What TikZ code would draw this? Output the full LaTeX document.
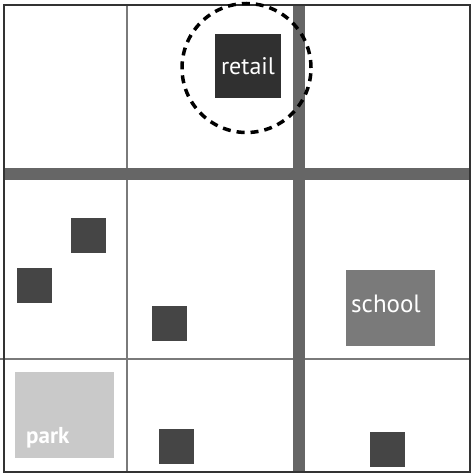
\documentclass[tikz,border=0pt]{standalone}
\usepackage{fontspec}
\setmainfont{PT Sans}
\definecolor{roadc}{HTML}{666666}
\definecolor{bldc}{HTML}{454545}
\definecolor{retailc}{HTML}{303030}
\definecolor{schoolc}{HTML}{7A7A7A}
\definecolor{parkc}{HTML}{C9C9C9}
\definecolor{linec}{HTML}{7A7A7A}
\tikzset{
  blk/.style={fill=bldc, draw=none, inner sep=0pt, minimum width=35pt, minimum height=35pt},
  road/.style={roadc, line width=12.5pt},
  thin/.style={linec, line width=1.3pt},
}
\begin{document}
\begin{tikzpicture}[x=1pt,y=-1pt]
\useasboundingbox (0,0) rectangle (471,473);
\fill[white] (0,0) rectangle (471,473);
% thin grid lines
\draw[thin] (127,5) -- (127,472);
\draw[thin] (0,359) -- (470,359);
% roads
\draw[road] (5,174) -- (470,174);
\draw[road] (299,5) -- (299,472);
% outer border
\draw[black!80, line width=2pt] (4,5) rectangle (470,472);
% buildings
\node[blk] (b1) at (88.5,235) {};
\node[blk] (b2) at (34,285.5) {};
\node[blk] (b3) at (169.5,323.5) {};
\node[blk] (b4) at (176.5,446.5) {};
\node[blk] (b5) at (387.5,449.5) {};
\node[fill=schoolc, inner sep=0pt, minimum width=89pt, minimum height=76pt] (school) at (390.5,308) {};
\node[text=white, font=\fontsize{25}{25}\selectfont, anchor=base, inner sep=0pt] (schoollbl) at (386,312) {school};
\node[fill=parkc, inner sep=0pt, minimum width=99pt, minimum height=86pt] (park) at (64.5,415) {};
\node[text=white, font=\fontsize{23}{23}\selectfont\bfseries, anchor=base west, inner sep=0pt] (parklbl) at (26,443) {park};
\node[fill=retailc, inner sep=0pt, minimum width=66pt, minimum height=64pt] (retail) at (248,66) {};
\node[text=white, font=\fontsize{24}{24}\selectfont, anchor=base, inner sep=0pt] (retaillbl) at (248,75) {retail};
% highlight circle
\node[draw=black, dash pattern=on 8pt off 6pt, line width=3.5pt, circle, minimum size=129pt, inner sep=0pt] (ring) at (246.5,68) {};
\end{tikzpicture}
\end{document}
